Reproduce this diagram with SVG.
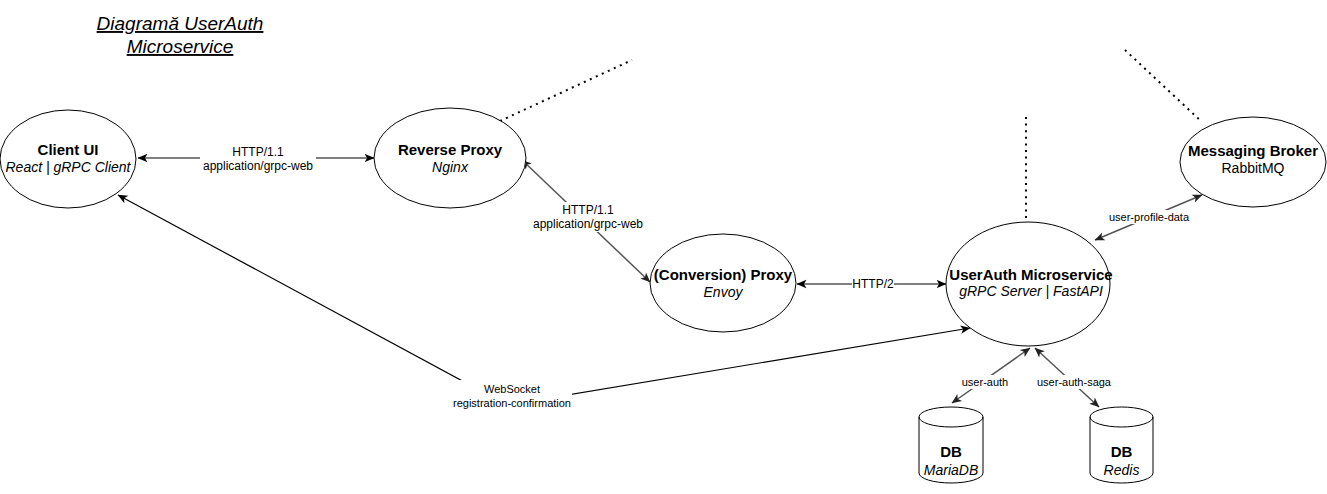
<svg xmlns="http://www.w3.org/2000/svg" width="1327" height="494" viewBox="0 0 1327 494">
<style>
text{font-family:"Liberation Sans",Arial,sans-serif;fill:#000}
.node{fill:#fff;stroke:#000;stroke-width:1}
.t{font-size:15px;font-weight:bold;text-anchor:middle}
.s{font-size:14px;font-style:italic;text-anchor:middle}
.r{font-size:14px;text-anchor:middle}
.l{font-size:12px;text-anchor:middle}
.ls{font-size:11px;text-anchor:middle}
.e{fill:none;stroke:#000;stroke-width:1.2}
.g{fill:none;stroke:#555;stroke-width:1.5}
.d{fill:none;stroke:#000;stroke-width:2;stroke-dasharray:2 4.6}
.bg{fill:#fff}
</style>
<defs>
<marker id="ab" viewBox="0 0 10 10" refX="9.5" refY="5" markerWidth="10" markerHeight="10" markerUnits="userSpaceOnUse" orient="auto-start-reverse">
<path d="M0,0.8 L10,5 L0,9.2 L2.6,5 Z" fill="#000"/>
</marker>
<marker id="ag" viewBox="0 0 10 10" refX="9.5" refY="5" markerWidth="10" markerHeight="10" markerUnits="userSpaceOnUse" orient="auto-start-reverse">
<path d="M0,0.8 L10,5 L0,9.2 L2.6,5 Z" fill="#222"/>
</marker>
</defs>
<rect width="1327" height="494" fill="#fff"/>
<g id="title">
<text x="180" y="30" style="font-size:19px;font-style:italic;text-decoration:underline;text-anchor:middle">Diagramă UserAuth</text>
<text x="180" y="53" style="font-size:19px;font-style:italic;text-decoration:underline;text-anchor:middle">Microservice</text>
</g>
<g id="connectors">
<line class="e" x1="138" y1="158" x2="374" y2="158" marker-start="url(#ab)" marker-end="url(#ab)"/>
<rect class="bg" x="200" y="142" width="116" height="32"/>
<text class="l" x="258" y="156">HTTP/1.1</text>
<text class="l" x="258" y="170">application/grpc-web</text>
<line class="g" x1="522" y1="160" x2="650" y2="282" marker-start="url(#ag)" marker-end="url(#ag)"/>
<rect class="bg" x="530" y="202" width="116" height="30"/>
<text class="l" x="588" y="214">HTTP/1.1</text>
<text class="l" x="588" y="228">application/grpc-web</text>
<line class="e" x1="797" y1="284" x2="946" y2="284" marker-start="url(#ab)" marker-end="url(#ab)"/>
<rect class="bg" x="852" y="277" width="42" height="14"/>
<text class="l" x="873" y="288">HTTP/2</text>
<line class="g" x1="1202" y1="195" x2="1095" y2="240" marker-start="url(#ag)" marker-end="url(#ag)"/>
<rect class="bg" x="1108" y="210" width="82" height="14"/>
<text class="ls" x="1149" y="221">user-profile-data</text>
<line class="g" x1="1030" y1="348" x2="952" y2="403" marker-start="url(#ag)" marker-end="url(#ag)"/>
<rect class="bg" x="960" y="375" width="50" height="14"/>
<text class="ls" x="985" y="386">user-auth</text>
<line class="g" x1="1035" y1="348" x2="1099" y2="407" marker-start="url(#ag)" marker-end="url(#ag)"/>
<rect class="bg" x="1037" y="375" width="74" height="14"/>
<text class="ls" x="1074" y="386">user-auth-saga</text>
<polyline class="e" points="118,195 507,405 970,328" marker-start="url(#ab)" marker-end="url(#ab)"/>
<rect class="bg" x="452" y="380" width="120" height="28"/>
<text class="ls" x="512" y="393">WebSocket</text>
<text class="ls" x="512" y="407">registration-confirmation</text>
<line class="d" x1="500" y1="121" x2="632" y2="60"/>
<line class="d" x1="1026" y1="117" x2="1026" y2="223"/>
<line class="d" x1="1125" y1="50" x2="1202" y2="122"/>
</g>
<g id="client-ui">
<ellipse class="node" cx="68" cy="159" rx="68" ry="49"/>
<text class="t" x="68" y="155">Client UI</text>
<text class="s" x="68" y="172">React | gRPC Client</text>
</g>
<g id="reverse-proxy">
<ellipse class="node" cx="450" cy="158" rx="76" ry="50"/>
<text class="t" x="450" y="155">Reverse Proxy</text>
<text class="s" x="450" y="172">Nginx</text>
</g>
<g id="conversion-proxy">
<ellipse class="node" cx="723" cy="283" rx="73" ry="49"/>
<text class="t" x="723" y="280">(Conversion) Proxy</text>
<text class="s" x="723" y="297">Envoy</text>
</g>
<g id="userauth">
<ellipse class="node" cx="1028" cy="284" rx="82" ry="62"/>
<text class="t" x="1031" y="280">UserAuth Microservice</text>
<text class="s" x="1031" y="296">gRPC Server | FastAPI</text>
</g>
<g id="broker">
<ellipse class="node" cx="1253" cy="162" rx="73" ry="45"/>
<text class="t" x="1253" y="156">Messaging Broker</text>
<text class="r" x="1253" y="173">RabbitMQ</text>
</g>
<g id="db-mariadb">
<path class="node" d="M919,417 a32,10 0 0,1 64,0 v56 a32,10 0 0,1 -64,0 Z"/>
<path class="node" style="fill:none" d="M919,417 a32,10 0 0,0 64,0"/>
<text class="t" x="951" y="457">DB</text>
<text class="s" x="951" y="475">MariaDB</text>
</g>
<g id="db-redis">
<path class="node" d="M1090,417 a31.5,10 0 0,1 63,0 v56 a31.5,10 0 0,1 -63,0 Z"/>
<path class="node" style="fill:none" d="M1090,417 a31.5,10 0 0,0 63,0"/>
<text class="t" x="1121.5" y="457">DB</text>
<text class="s" x="1121.5" y="475">Redis</text>
</g>
</svg>
